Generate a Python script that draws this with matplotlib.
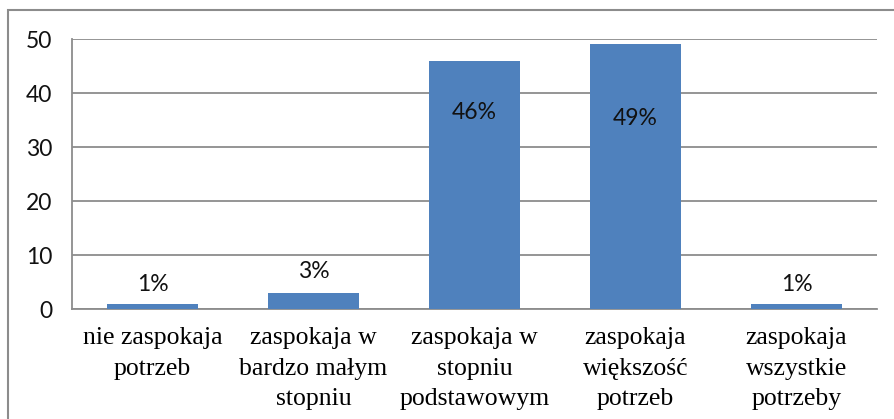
import matplotlib.pyplot as plt
from matplotlib.patches import Rectangle

categories = ["nie zaspokaja\npotrzeb", "zaspokaja w\nbardzo małym\nstopniu",
              "zaspokaja w\nstopniu\npodstawowym", "zaspokaja\nwiększość\npotrzeb",
              "zaspokaja\nwszystkie\npotrzeby"]
values = [1, 3, 46, 49, 1]
labels = ["1%", "3%", "46%", "49%", "1%"]

fig = plt.figure(figsize=(8.94, 4.19), dpi=100)
ax = fig.add_axes([72/894, 1-309/419, (877-72)/894, (309-39)/419])

# outer chart frame
fig.patches.append(Rectangle((8/894, -0.05), 1.0, 1-10/419+0.05, transform=fig.transFigure,
                             fill=False, edgecolor='#8c8c8c', linewidth=1.5))

x = list(range(len(values)))
ax.bar(x, values, width=0.57, color='#4f81bd', zorder=3)

# value labels: above small bars, inside the tall ones
offsets = [19, 21, -52, -74, 19]
for xi, v, lab, off in zip(x, values, labels, offsets):
    ax.annotate(lab, xy=(xi, v), xytext=(0, off), textcoords='offset pixels',
                ha='center', va='center', fontsize=16.5, family='Lato', color='#111111', zorder=4)

ax.set_xlim(-0.5, 4.5)
ax.set_ylim(0, 50)
ax.set_yticks([0, 10, 20, 30, 40, 50])
ax.yaxis.grid(True, color='#8c8c8c', linewidth=1.3, zorder=0)
ax.set_xticks(x)
ax.set_xticklabels(categories, family='Liberation Serif', fontsize=18.5, linespacing=1.5)
for t in ax.get_yticklabels():
    t.set_family('Lato')
    t.set_fontsize(16.5)
    t.set_color('#111111')
ax.tick_params(axis='both', length=0)
ax.tick_params(axis='y', pad=14)
ax.tick_params(axis='x', pad=13)
for s in ['top', 'right']:
    ax.spines[s].set_visible(False)
for s in ['left', 'bottom']:
    ax.spines[s].set_color('#8c8c8c')
    ax.spines[s].set_linewidth(1.3)

fig.savefig('out.png', dpi=100)
